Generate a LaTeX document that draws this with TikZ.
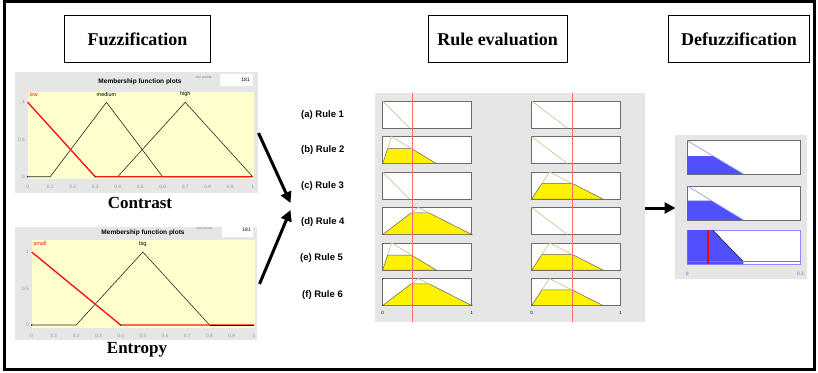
\documentclass[tikz,border=0pt]{standalone}
\usepackage{fontspec}
\setmainfont{Liberation Serif}
\setsansfont{Liberation Sans}
\usetikzlibrary{arrows.meta}
\definecolor{pgray}{RGB}{230,230,230}
\definecolor{pyellow}{RGB}{255,255,206}
\definecolor{khaki}{RGB}{200,200,150}
\definecolor{rred}{RGB}{255,110,110}
\definecolor{dblue}{RGB}{80,80,255}
\definecolor{lblue}{RGB}{140,140,255}
\definecolor{tickgray}{RGB}{150,150,150}
\definecolor{mfred}{RGB}{255,20,20}
\tikzset{
 titlebox/.style={draw, line width=1pt, minimum height=46.6pt, font=\fontsize{18}{20}\selectfont\bfseries, inner sep=0pt},
 captext/.style={font=\fontsize{17}{19}\selectfont\bfseries, inner sep=0pt},
 mftitle/.style={font=\fontsize{6.5}{7}\selectfont\sffamily\bfseries, inner sep=0pt},
 nint/.style={font=\fontsize{3.5}{3.5}\selectfont\sffamily, text=gray, inner sep=0pt},
 ticklab/.style={font=\fontsize{4.8}{5}\selectfont\sffamily, text=tickgray, inner sep=0.5pt},
 mflabel/.style={font=\fontsize{5.5}{6}\selectfont\sffamily, inner sep=0.5pt},
 bigarrow/.style={line width=3pt, -{Triangle[length=11pt,width=11pt]}},
 rulelabel/.style={font=\fontsize{9.5}{10}\selectfont\sffamily\bfseries, anchor=west, inner sep=0pt},
 rbox/.style={draw=gray!85!black, line width=0.8pt, fill=white},
 kline/.style={draw=khaki, line width=0.7pt},
 yfill/.style={fill=yellow, draw=gray!75!black, line width=0.5pt},
 bfill/.style={fill=dblue, draw=none},
 mfblack/.style={draw=black!85, line width=0.6pt},
 mfredline/.style={draw=mfred, line width=1.4pt},
 redcut/.style={draw=rred, line width=1pt},
 axlab/.style={font=\fontsize{4.5}{5}\selectfont\sffamily, inner sep=0pt},
 bluelab/.style={font=\fontsize{5}{5}\selectfont\sffamily\bfseries, text=lblue, inner sep=0pt},
}
\newcommand{\rdiagk}[1]{\draw[kline] (0,1) -- (#1,0);}
\newcommand{\rtrik}[3]{%
 \filldraw[yfill] (0,0) -- ({#1*#3},#3) -- ({#1+(#2-#1)*(1-#3)},#3) -- (#2,0) -- cycle;
 \draw[kline] ({#1*#3},#3) -- (#1,1) -- ({#1+(#2-#1)*(1-#3)},#3);}
\begin{document}
\begin{tikzpicture}[x=1pt,y=-1pt]
\useasboundingbox (0,0) rectangle (818,372);
\fill[white] (0,0) rectangle (818,372);
\draw[line width=3pt] (4.5,1.5) rectangle (814.5,369.5);

% titles
\node[titlebox, minimum width=146.4pt] (tfuzz) at (137.5,39) {Fuzzification};
\node[titlebox, minimum width=139pt] (trule) at (497.5,39) {Rule evaluation};
\node[titlebox, minimum width=141pt] (tdefuzz) at (739,39) {Defuzzification};

% ---------- membership plot 1 (Contrast)
\fill[pgray] (15,72) rectangle (258,193);
\fill[pyellow] (27.7,91.5) rectangle (253.5,178.5);
\node[mftitle] (mt1) at (140,82) {Membership function plots};
\node[nint] (ni1) at (204,78) {nint points:};
\draw[white, fill=white] (220,74.5) rectangle (252,85.5);
\node[font=\fontsize{5}{5}\selectfont\sffamily, anchor=east, inner sep=0pt] (n1) at (250,80) {181};
\begin{scope}[shift={(27.7,176.7)}, x=225pt, y=74.4pt]
 \foreach \t [count=\i] in {0,0.1,0.2,0.3,0.4,0.5,0.6,0.7,0.8,0.9,1}
   \node[ticklab] (xa\i) at (\t,-0.14) {\t};
 \node[ticklab, anchor=east] (ya1) at (-0.01,1) {1};
 \node[ticklab, anchor=east] (ya2) at (-0.01,0.5) {0.5};
 \node[ticklab, anchor=east] (ya3) at (-0.01,0) {0};
 \draw[mfblack] (0,0) -- (0.1,0) -- (0.35,1) -- (0.6,0) -- (1,0);
 \draw[mfblack] (0.4,0) -- (0.7,1) -- (1,0);
 \draw[mfredline] (0,1) -- (0.3,0) -- (1,0);
 \fill[black!70] (0,0) circle (1pt);
 \fill[black!70] (0.3,0) circle (1pt);
 \node[mflabel, text=mfred, anchor=west] (lowl) at (0.005,1.11) {low};
 \node[mflabel] (medl) at (0.35,1.11) {medium};
 \node[mflabel] (highl) at (0.7,1.11) {high};
\end{scope}
\node[captext] (contrast) at (140,203) {Contrast};

% ---------- membership plot 2 (Entropy)
\fill[pgray] (15,227) rectangle (257,340);
\fill[pyellow] (31.7,240) rectangle (255,328);
\node[mftitle] (mt2) at (143,233) {Membership function plots};
\node[nint] (ni2) at (205,229) {nint points:};
\draw[white, fill=white] (222,223) rectangle (252,236);
\node[font=\fontsize{5}{5}\selectfont\sffamily, anchor=east, inner sep=0pt] (n2) at (251,229.5) {181};
\begin{scope}[shift={(31.7,325)}, x=222.3pt, y=73pt]
 \foreach \t [count=\i] in {0,0.1,0.2,0.3,0.4,0.5,0.6,0.7,0.8,0.9,1}
   \node[ticklab] (xb\i) at (\t,-0.15) {\t};
 \node[ticklab, anchor=east] (yb1) at (-0.01,1) {1};
 \node[ticklab, anchor=east] (yb2) at (-0.01,0.5) {0.5};
 \node[ticklab, anchor=east] (yb3) at (-0.01,0) {0};
 \draw[mfblack] (0,0) -- (0.2,0) -- (0.5,1) -- (0.8,0);
 \draw[mfredline] (0,1) -- (0.4,0) -- (1,0);
 \draw[draw=black!80!red, line width=0.9pt] (0.8,0) -- (1,0);
 \fill[black!70] (0,0) circle (1pt);
 \fill[black!70] (0.4,0) circle (1pt);
 \node[mflabel, text=mfred, anchor=west] (smalll) at (0.005,1.11) {small};
 \node[mflabel] (bigl) at (0.5,1.11) {big};
\end{scope}
\node[captext] (entropy) at (137,350) {Entropy};

% ---------- rule evaluation
\fill[pgray] (375,93) rectangle (645,322);
\node[rulelabel] (r1) at (301,115.5) {(a) Rule 1};
\node[rulelabel] (r2) at (301,150.5) {(b) Rule 2};
\node[rulelabel] (r3) at (301,186) {(c) Rule 3};
\node[rulelabel] (r4) at (301,222.5) {(d) Rule 4};
\node[rulelabel] (r5) at (300,258.5) {(e) Rule 5};
\node[rulelabel] (r6) at (302,295) {(f) Rule 6};
\foreach \i in {0,...,5} {
  \draw[rbox] (382.7,{101+35.5*\i}) rectangle (471.7,{128+35.5*\i});
  \draw[rbox] (531.7,{101+35.5*\i}) rectangle (620.7,{128+35.5*\i});
}
% column 1
\begin{scope}[shift={(382.7,128)}, x=89pt, y=27pt] \rdiagk{0.3} \end{scope}
\begin{scope}[shift={(382.7,163.5)}, x=89pt, y=27pt] \rtrik{0.1}{0.6}{0.55} \end{scope}
\begin{scope}[shift={(382.7,199)}, x=89pt, y=27pt] \rdiagk{0.3} \end{scope}
\begin{scope}[shift={(382.7,234.5)}, x=89pt, y=27pt] \rtrik{0.4}{1}{0.8} \end{scope}
\begin{scope}[shift={(382.7,270)}, x=89pt, y=27pt] \rtrik{0.1}{0.6}{0.55} \end{scope}
\begin{scope}[shift={(382.7,305.5)}, x=89pt, y=27pt] \rtrik{0.4}{1}{0.8} \end{scope}
% column 2
\begin{scope}[shift={(531.7,128)}, x=89pt, y=27pt] \rdiagk{0.4} \end{scope}
\begin{scope}[shift={(531.7,163.5)}, x=89pt, y=27pt] \rdiagk{0.4} \end{scope}
\begin{scope}[shift={(531.7,199)}, x=89pt, y=27pt] \rtrik{0.2}{0.8}{0.58} \end{scope}
\begin{scope}[shift={(531.7,234.5)}, x=89pt, y=27pt] \rdiagk{0.4} \end{scope}
\begin{scope}[shift={(531.7,270)}, x=89pt, y=27pt] \rtrik{0.2}{0.8}{0.58} \end{scope}
\begin{scope}[shift={(531.7,305.5)}, x=89pt, y=27pt] \rtrik{0.2}{0.8}{0.58} \end{scope}
\draw[redcut] (412.3,93) -- (412.3,322);
\draw[redcut] (572.0,93) -- (572.0,322);
\node[axlab] (c1z) at (382.7,312.5) {0};
\node[axlab] (c1o) at (471.7,312.5) {1};
\node[axlab] (c2z) at (531.7,312.5) {0};
\node[axlab] (c2o) at (620.7,312.5) {1};

% ---------- defuzzification
\fill[pgray] (675,135) rectangle (806.7,278.5);
\draw[rbox] (687.3,140.7) rectangle (800.7,174);
\draw[rbox] (687.3,186) rectangle (800.7,220);
\draw[draw=lblue, line width=0.8pt, fill=white] (687.3,230) rectangle (800.7,264);
\begin{scope}[shift={(687.3,174)}, x=113.4pt, y=33.3pt]
 \fill[bfill] (0,0) -- (0,0.54) -- (0.227,0.54) -- (0.494,0) -- cycle;
 \draw[draw=lblue, line width=0.6pt] (0,1) -- (0.494,0);
\end{scope}
\begin{scope}[shift={(687.3,220)}, x=113.4pt, y=34pt]
 \fill[bfill] (0,0) -- (0,0.57) -- (0.212,0.57) -- (0.494,0) -- cycle;
 \draw[draw=lblue, line width=0.6pt] (0,1) -- (0.494,0);
\end{scope}
\begin{scope}[shift={(687.3,264)}, x=113.4pt, y=34pt]
 \fill[bfill] (0,0) -- (0,1) -- (0.224,1) -- (0.494,0.07) -- (0.494,0) -- cycle;
 \draw[black, line width=0.4pt] (0.224,1) -- (0.494,0.07);
 \draw[gray, line width=0.4pt] (0,0.07) -- (1,0.07);
 \draw[red, line width=2pt] (0.185,0) -- (0.185,1);
\end{scope}
\node[bluelab] (d0) at (687.3,273.5) {0};
\node[bluelab] (d1) at (800.7,273.5) {0.1};

% ---------- arrows
\coordinate (a1s) at (258.5,133);
\coordinate (a1e) at (290.5,203);
\coordinate (a2s) at (259.5,284);
\coordinate (a2e) at (290.5,210);
\coordinate (a3s) at (645,208);
\coordinate (a3e) at (675.5,208);
\draw[bigarrow] (a1s) -- (a1e);
\draw[bigarrow] (a2s) -- (a2e);
\draw[bigarrow] (a3s) -- (a3e);
\end{tikzpicture}
\end{document}
